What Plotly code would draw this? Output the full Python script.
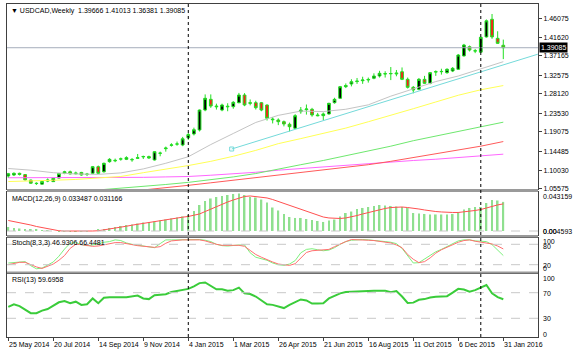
import pandas as pd
import plotly.graph_objects as go

# ---------------- data ----------------
dates = pd.date_range("2014-05-25", periods=89, freq="7D")

opens = [1.0862,1.0885,1.0925,1.0895,1.0765,1.0690,1.0668,1.0740,1.0728,1.0812,
1.0926,1.0962,1.0935,1.0946,1.0898,1.0925,1.1083,1.0961,1.1202,1.1235,
1.1263,1.1258,1.1255,1.1282,1.1315,1.1322,1.1242,1.1400,1.1510,1.1590,
1.1620,1.1598,1.1770,1.1860,1.1955,1.2429,1.2683,1.2524,1.2429,1.2520,
1.2508,1.2603,1.2785,1.2603,1.2603,1.2603,1.2548,1.2215,1.2192,1.2152,
1.2090,1.1995,1.2389,1.2437,1.2445,1.2311,1.2295,1.2335,1.2603,1.2707,
1.2983,1.3047,1.3105,1.3125,1.3142,1.3183,1.3237,1.3285,1.3290,1.3310,
1.3339,1.3158,1.2968,1.2920,1.3158,1.3063,1.3330,1.3339,1.3316,1.3356,
1.3396,1.3714,1.3933,1.3830,1.3804,1.4165,1.4584,1.4132,1.39666]
highs = [1.0935,1.0948,1.0940,1.0905,1.0775,1.0712,1.0748,1.0805,1.0818,1.0935,
1.0985,1.0990,1.0965,1.0960,1.0935,1.1100,1.1110,1.1180,1.1285,1.1275,
1.1300,1.1330,1.1290,1.1385,1.1345,1.1345,1.1450,1.1440,1.1560,1.1640,
1.1680,1.1790,1.1885,1.2010,1.2440,1.2800,1.2800,1.2580,1.2580,1.2590,
1.2640,1.2835,1.2830,1.2680,1.2650,1.2620,1.2560,1.2260,1.2230,1.2180,
1.2130,1.2330,1.2500,1.2560,1.2480,1.2360,1.2370,1.2600,1.2720,1.3000,
1.3060,1.3160,1.3190,1.3220,1.3200,1.3300,1.3360,1.3350,1.3450,1.3380,
1.3440,1.3200,1.3000,1.3190,1.3240,1.3330,1.3370,1.3410,1.3420,1.3450,
1.3760,1.4000,1.3960,1.3880,1.4160,1.4580,1.4710,1.4300,1.41013]
lows = [1.0815,1.0860,1.0875,1.0755,1.0675,1.0650,1.0658,1.0715,1.0720,1.0800,
1.0905,1.0898,1.0900,1.0868,1.0860,1.0905,1.0905,1.0945,1.1180,1.1190,
1.1225,1.1240,1.1200,1.1265,1.1265,1.1270,1.1230,1.1330,1.1440,1.1560,
1.1580,1.1570,1.1720,1.1825,1.1920,1.2400,1.2480,1.2440,1.2400,1.2400,
1.2460,1.2590,1.2520,1.2540,1.2440,1.2400,1.2180,1.2110,1.2070,1.2040,
1.1920,1.1980,1.2340,1.2320,1.2270,1.2280,1.2190,1.2320,1.2580,1.2690,
1.2950,1.2990,1.3050,1.3050,1.3080,1.3160,1.3200,1.3200,1.3140,1.3230,
1.3140,1.2940,1.2826,1.2900,1.3050,1.3040,1.3240,1.3270,1.3290,1.3330,
1.3380,1.3700,1.3820,1.3780,1.3790,1.4150,1.4120,1.4000,1.36381]
closes = [1.0915,1.0925,1.0900,1.0770,1.0690,1.0682,1.0730,1.0765,1.0806,1.0920,
1.0962,1.0912,1.0918,1.0886,1.0906,1.1083,1.0925,1.1163,1.1258,1.1225,
1.1268,1.1297,1.1248,1.1295,1.1325,1.1290,1.1439,1.1405,1.1525,1.1600,
1.1622,1.1745,1.1845,1.1960,1.2429,1.2707,1.2524,1.2508,1.2548,1.2508,
1.2612,1.2785,1.2548,1.2591,1.2484,1.2429,1.2232,1.2200,1.2152,1.2097,
1.2033,1.2294,1.2429,1.2453,1.2311,1.2295,1.2335,1.2588,1.2683,1.2983,
1.3010,1.3101,1.3115,1.3142,1.3155,1.3237,1.3301,1.3292,1.3296,1.3290,
1.3158,1.2968,1.2904,1.3158,1.3063,1.3316,1.3340,1.3345,1.3396,1.3419,
1.3735,1.3973,1.3854,1.3835,1.4157,1.4548,1.4165,1.4013,1.39085]

# moving averages, read every 4th week
ma_gray = [1.104,1.100,1.094,1.091,1.090,1.0935,1.103,1.1164,1.1319,1.1609,1.1872,1.2134,
           1.2302,1.2404,1.2392,1.2447,1.2552,1.2758,1.2931,1.3105,1.3237,1.3402,1.3577]
ma_yellow = [1.073,1.074,1.076,1.078,1.081,1.085,1.094,1.102,1.111,1.121,1.133,1.147,
             1.163,1.175,1.187,1.200,1.215,1.230,1.246,1.262,1.278,1.291,1.301]
ma_green = [1.053,1.057,1.061,1.066,1.071,1.077,1.084,1.092,1.103,1.113,1.123,1.134,
            1.146,1.157,1.170,1.181,1.192,1.204,1.214]          # from week 16
ma_red = [1.053,1.058,1.064,1.070,1.076,1.082,1.088,1.094,1.100,1.106,1.113,1.121,
          1.130,1.139,1.148,1.157,1.168]                         # from week 24
ma_magenta = [1.082,1.082,1.082,1.082,1.082,1.083,1.083,1.084,1.085,1.088,1.091,1.095,
              1.100,1.104,1.108,1.112,1.116,1.120,1.123,1.126,1.130,1.134,1.138]

trend_x = ["2015-02-27", "2016-03-14"]
trend_y = [1.1503, 1.3755]

macd_main = [0.0046,0.0035,0.0029,0.0023,0.0017,0.0012,0.0007,0.0003,0.0000,-0.0002,
-0.0003,-0.0005,-0.0005,-0.0003,-0.0002,0.0000,0.0012,0.0023,0.0035,0.0046,
0.0058,0.0069,0.0075,0.0086,0.0098,0.0104,0.0109,0.0121,0.0132,0.0144,
0.0155,0.0167,0.0184,0.0230,0.0299,0.0345,0.0374,0.0391,0.0403,0.0414,
0.0426,0.0432,0.0414,0.0391,0.0385,0.0362,0.0328,0.0270,0.0236,0.0196,
0.0161,0.0150,0.0150,0.0138,0.0127,0.0115,0.0104,0.0121,0.0132,0.0167,
0.0207,0.0224,0.0253,0.0265,0.0276,0.0288,0.0299,0.0293,0.0288,0.0282,
0.0276,0.0265,0.0207,0.0201,0.0196,0.0190,0.0190,0.0190,0.0190,0.0196,
0.0219,0.0247,0.0265,0.0276,0.0276,0.0322,0.0357,0.0351,0.033487]
macd_signal = [0.0121,0.0109,0.0092,0.0081,0.0069,0.0052,0.0040,0.0023,0.0012,0.0003,
0.0000,-0.0001,-0.0002,-0.0002,-0.0001,0.0000,0.0003,0.0012,0.0021,0.0032,
0.0044,0.0055,0.0067,0.0078,0.0090,0.0099,0.0107,0.0115,0.0127,0.0138,
0.0150,0.0159,0.0167,0.0178,0.0196,0.0224,0.0253,0.0282,0.0311,0.0334,
0.0357,0.0380,0.0397,0.0403,0.0397,0.0391,0.0380,0.0362,0.0339,0.0316,
0.0293,0.0270,0.0247,0.0224,0.0201,0.0178,0.0161,0.0150,0.0144,0.0144,
0.0150,0.0161,0.0178,0.0196,0.0213,0.0230,0.0247,0.0259,0.0270,0.0276,
0.0276,0.0270,0.0265,0.0253,0.0242,0.0230,0.0224,0.0219,0.0213,0.0213,
0.0213,0.0219,0.0224,0.0236,0.0247,0.0265,0.0288,0.0300,0.031166]

stoch_k = [25,26,27,29,17,8,10,18,28,45,66,83,85,79,76,78,83,86,88,93,
91,84,80,77,74,71,70,82,93,93,93,94,95,95,94,92,88,80,76,75,
77,78,78,55,42,38,33,25,20,18,22,32,55,65,67,64,61,63,70,80,
88,92,94,94,93,92,90,88,86,82,68,48,25,26,37,48,58,65,74,83,
90,93,93,90,88,88,79,63,46.9306]
stoch_d = [20,24,27,27,20,13.5,9,15,22,33,47,68,80,79,77,74,75,78,82,85,
85,83,79,76,74,72,71,73,83,90,92,93,93,93,93,90,84,80,77,76,
77,77,74,62,50,42,34,28,22,19,18,23,40,56,61,62,62,65,73,81,
88,94,94,93,92,91,89,87,84,78,70,50,36,26,29,40,54,64,72,80,
86,91,93,89,87,85,81,75,66.4481]
rsi = [48,52,49,44,38,38,42,44.5,50,55,57,53.5,56,51,52,61,53.5,62,63,63.5,
63,62.8,64,65.5,61,60,66,66.5,67.5,71,72.5,74.5,76,80,85,86,80.5,75.3,75.3,73.2,
74,78,69,68,64,58,52,51,49,46,51,55,59.5,58,53,53,53.5,61,64.5,69,
71,71.6,71.6,72,72.7,73,73.2,73.2,70.6,72.7,64,54,54.5,59,60,62.5,63.5,64,64.5,70,
76,75,71.6,74,78,82,69,63,59.6958]

price_ticks = [1.46075,1.41620,1.37165,1.32575,1.28120,1.23530,1.19075,1.14485,1.10030,1.05575]
date_labels = ["25 May 2014","20 Jul 2014","14 Sep 2014","9 Nov 2014","4 Jan 2015","1 Mar 2015",
               "26 Apr 2015","21 Jun 2015","16 Aug 2015","11 Oct 2015","6 Dec 2015","31 Jan 2016"]
separators = ["2015-01-04", "2016-01-03"]
last_price = 1.39085

# ---------------- layout helpers ----------------
W, H = 585, 351
ML, MR, MT, MB = 7, 47, 4, 14
PH = H - MT - MB
def py(px):
    return (H - MB - px) / PH

FONT = "Liberation Sans, Arial, sans-serif"
x0 = dates[0] - pd.Timedelta(days=1.6)
x1 = dates[0] + pd.Timedelta(days=659.2)
ma_dates = dates[::4]

dom_main = [py(189), 1.0]
dom_macd = [py(235), py(192)]
dom_stoch = [py(271.5), py(237.5)]
dom_rsi = [0.0, py(273.5)]

fig = go.Figure()

# main panel
fig.add_trace(go.Candlestick(
    x=dates, open=opens, high=highs, low=lows, close=closes,
    increasing=dict(line=dict(color="#22e022", width=1), fillcolor="#000000"),
    decreasing=dict(line=dict(color="#22e022", width=1), fillcolor="#ff1a1a"),
    xaxis="x", yaxis="y", hoverinfo="skip", showlegend=False))

def ma_line(xs, ys, color):
    fig.add_trace(go.Scatter(x=xs, y=ys, mode="lines", line=dict(color=color, width=1),
                             xaxis="x", yaxis="y", hoverinfo="skip", showlegend=False))

ma_line(ma_dates, ma_magenta, "#ff66ff")
ma_line(ma_dates[6:], ma_red, "#ff5a5a")
ma_line(ma_dates[4:], ma_green, "#6ee86e")
ma_line(ma_dates, ma_yellow, "#ffff55")
ma_line(ma_dates, ma_gray, "#c4c4c4")
fig.add_trace(go.Scatter(x=trend_x, y=trend_y, mode="lines", line=dict(color="#74dada", width=1),
                         xaxis="x", yaxis="y", hoverinfo="skip", showlegend=False))
fig.add_trace(go.Scatter(x=trend_x[:1], y=trend_y[:1], mode="markers",
                         marker=dict(symbol="square-open", size=4, color="#74dada", line=dict(width=1)),
                         xaxis="x", yaxis="y", hoverinfo="skip", showlegend=False))

# MACD
fig.add_trace(go.Bar(x=dates, y=macd_main, marker=dict(color="#8fe08f", line=dict(width=0)),
                     width=2.2 * 86400000, xaxis="x2", yaxis="y2", hoverinfo="skip", showlegend=False))
fig.add_trace(go.Scatter(x=dates, y=macd_signal, mode="lines", line=dict(color="#ff5050", width=1),
                         xaxis="x2", yaxis="y2", hoverinfo="skip", showlegend=False))

# Stochastic
fig.add_trace(go.Scatter(x=dates, y=stoch_k, mode="lines", line=dict(color="#7df07d", width=1),
                         xaxis="x3", yaxis="y3", hoverinfo="skip", showlegend=False))
fig.add_trace(go.Scatter(x=dates, y=stoch_d, mode="lines", line=dict(color="#ff6f6f", width=1),
                         xaxis="x3", yaxis="y3", hoverinfo="skip", showlegend=False))

# RSI
fig.add_trace(go.Scatter(x=dates, y=rsi, mode="lines", line=dict(color="#3acc3a", width=2),
                         xaxis="x4", yaxis="y4", hoverinfo="skip", showlegend=False))

axis_common = dict(showgrid=False, zeroline=False, showline=True, mirror=True,
                   linecolor="#404040", linewidth=1)
xcommon = dict(axis_common, type="date", range=[x0, x1], showticklabels=False)

fig.update_layout(
    width=W, height=H, margin=dict(l=ML, r=MR, t=MT, b=MB),
    paper_bgcolor="white", plot_bgcolor="white", showlegend=False,
    font=dict(family=FONT, size=7, color="#000"),
    xaxis=dict(xcommon, anchor="y", rangeslider=dict(visible=False)),
    xaxis2=dict(xcommon, anchor="y2"),
    xaxis3=dict(xcommon, anchor="y3"),
    xaxis4=dict(xcommon, anchor="y4", ticks="outside", ticklen=3, tickcolor="#404040",
                tickvals=list(dates[::8])),
    yaxis=dict(axis_common, domain=dom_main, range=[1.05529, 1.49472], side="right",
               tickvals=price_ticks, ticktext=["%.5f" % v for v in price_ticks],
               ticks="outside", ticklen=3, tickcolor="#404040",
               tickfont=dict(size=7, family=FONT)),
    yaxis2=dict(axis_common, domain=dom_macd, range=[-0.0046, 0.04485], side="right",
                showticklabels=False),
    yaxis3=dict(axis_common, domain=dom_stoch, range=[0, 100], side="right",
                showticklabels=False),
    yaxis4=dict(axis_common, domain=dom_rsi, range=[0.8, 100], side="right",
                showticklabels=False),
)

shapes = []
# dashed level lines
def hline(yref, yv, color="#c8c8c8", dash="dash"):
    shapes.append(dict(type="line", xref="x", yref=yref, x0=x0, x1=x1, y0=yv, y1=yv,
                       line=dict(color=color, width=1, dash=dash)))
hline("y2", 0)
hline("y3", 80); hline("y3", 20)
hline("y4", 70); hline("y4", 30)
hline("y", last_price, color="#a6aebb", dash="solid")
# panel separators
for top, bot in [(189, 192), (235, 237.5), (271.5, 273.5)]:
    shapes.append(dict(type="rect", xref="paper", yref="paper", x0=0, x1=1,
                       y0=py(bot), y1=py(top), fillcolor="#9a9a9a", line=dict(width=0)))
# period separators
for d in separators:
    shapes.append(dict(type="line", xref="x", yref="paper", x0=d, x1=d, y0=0, y1=1,
                       line=dict(color="#000", width=1, dash="dot")))
fig.update_layout(shapes=shapes)

ann = []
def label(text, xpx, ypx, anchor="left"):
    ann.append(dict(text=text, xref="paper", yref="paper", x=(xpx - ML) / (W - ML - MR),
                    y=py(ypx), xanchor=anchor, yanchor="middle", showarrow=False,
                    font=dict(size=7, family=FONT, color="#000")))
label("\u25bc USDCAD,Weekly  1.39666 1.41013 1.36381 1.39085", 9, 11)
label("MACD(12,26,9) 0.033487 0.031166", 10, 199)
label("Stoch(8,3,3) 46.9306 66.4481", 10, 243)
label("RSI(13) 59.6958", 10, 280)
# right scale labels for sub windows
label("0.043159", 541, 196)
label("0.004593", 541, 231)
label("0.00", 541, 231)
label("100", 541, 241)
label("80", 541, 246)
label("20", 541, 265)
label("0", 541, 268.5)
label("100", 541, 278)
label("70", 541, 293)
label("30", 541, 318)
label("0", 541, 334)
# date labels
for d, t in zip(dates[::8], date_labels):
    ann.append(dict(text=t, xref="x4", yref="paper", x=d, y=py(344.5), xanchor="left",
                    yanchor="middle", xshift=-1, showarrow=False,
                    font=dict(size=7, family=FONT, color="#000")))
# current price box
ann.append(dict(text="1.39085", xref="paper", yref="y", x=1, y=last_price, xanchor="left",
                yanchor="middle", xshift=1, showarrow=False, bgcolor="#000000", borderpad=1,
                font=dict(size=7, family=FONT, color="#ffffff")))
fig.update_layout(annotations=ann)

fig.write_html("out.html")
